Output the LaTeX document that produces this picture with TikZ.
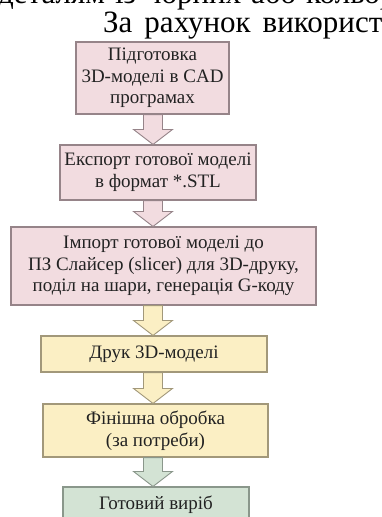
\documentclass[tikz,border=0pt]{standalone}
\usepackage{fontspec}
\setmainfont{Liberation Serif}
\usetikzlibrary{calc}
\definecolor{pinkF}{HTML}{F2DCE0}
\definecolor{pinkD}{HTML}{968489}
\definecolor{yelF}{HTML}{FBEFC4}
\definecolor{yelD}{HTML}{A2987A}
\definecolor{grnF}{HTML}{D3E3D4}
\definecolor{grnD}{HTML}{8A978B}
\definecolor{txt}{HTML}{222222}
\newcommand\flowarrow[3]{%
  \filldraw[#3, line width=0.9pt, line join=miter] let \p1=(#1.south -| ax), \p2=(#2.north -| ax) in
  (\x1-9.5pt,\y1) -- (\x1+9.5pt,\y1) -- (\x1+9.5pt,\y2+15pt) -- (\x1+19.5pt,\y2+15pt) --
  (\x1,\y2) -- (\x1-19.5pt,\y2+15pt) -- (\x1-9.5pt,\y2+15pt) -- cycle;}
\begin{document}
\begin{tikzpicture}[x=1pt,y=-1pt,
  box/.style={draw, line width=1.1pt, inner sep=0pt, align=center, text=txt,
    font=\fontsize{19}{21.7}\selectfont},
  pinkbox/.style={box, fill=pinkF, draw=pinkD},
  yelbox/.style={box, fill=yelF, draw=yelD},
  grnbox/.style={box, fill=grnF, draw=grnD},
  titletext/.style={inner sep=0pt, anchor=base west, font=\fontsize{31}{34}\selectfont}]
\fill[white] (0,0) rectangle (382,517);
\useasboundingbox (0,0) rectangle (382,517);
\begin{scope}
\clip (0,0) rectangle (382,517);
\node[titletext] (t1) at (-2,3) {деталям\hspace{10pt}із\hspace{10pt}чорних\hspace{10pt}або\hspace{10pt}кольор};
\node[titletext] (t2) at (103,32) {За\hspace{12pt}рахунок\hspace{12pt}використання};

\coordinate (ax) at (153,0);

\node[pinkbox, minimum width=153pt, minimum height=72pt] (b1) at (152.5,78)
  {Підготовка\\3D-моделі в CAD\\програмах};
\node[pinkbox, minimum width=196pt, minimum height=55pt] (b2) at (158,172.5)
  {Експорт готової моделі\\в формат *.STL};
\node[pinkbox, minimum width=305pt, minimum height=78pt] (b3) at (163.5,266)
  {Імпорт готової моделі до\\ПЗ Слайсер (slicer) для 3D-друку,\\поділ на шари, генерація G-коду};
\node[yelbox, minimum width=226pt, minimum height=36pt] (b4) at (154,354)
  {Друк 3D-моделі};
\node[yelbox, minimum width=225pt, minimum height=53pt] (b5) at (155.5,430.5)
  {Фінішна обробка\\(за потреби)};
\node[grnbox, minimum width=186pt, minimum height=36pt] (b6) at (156,505)
  {Готовий виріб};

\flowarrow{b1}{b2}{fill=pinkF, draw=pinkD}
\flowarrow{b2}{b3}{fill=pinkF, draw=pinkD}
\flowarrow{b3}{b4}{fill=yelF, draw=yelD}
\flowarrow{b4}{b5}{fill=yelF, draw=yelD}
\flowarrow{b5}{b6}{fill=grnF, draw=grnD}
\end{scope}
\end{tikzpicture}
\end{document}
